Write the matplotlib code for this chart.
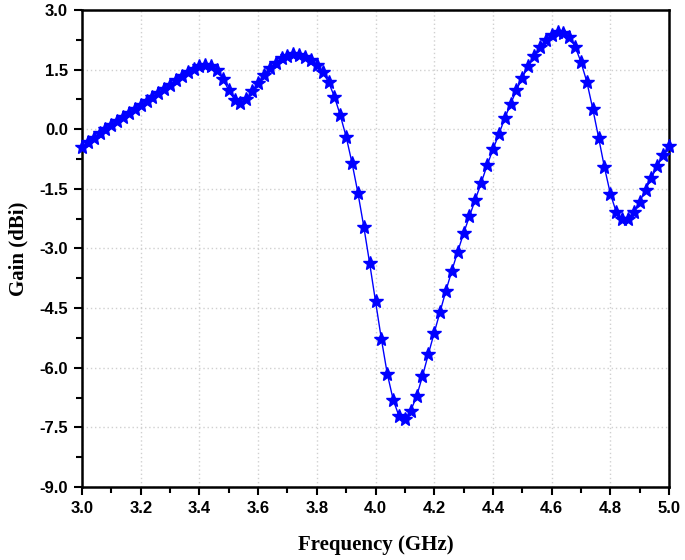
import numpy as np
import matplotlib
matplotlib.use("Agg")
import matplotlib.pyplot as plt
from matplotlib.ticker import MultipleLocator

freq = [3.00, 3.02, 3.04, 3.06, 3.08, 3.10, 3.12, 3.14, 3.16, 3.18,
        3.20, 3.22, 3.24, 3.26, 3.28, 3.30, 3.32, 3.34, 3.36, 3.38,
        3.40, 3.42, 3.44, 3.46, 3.48, 3.50, 3.52, 3.54, 3.56, 3.58,
        3.60, 3.62, 3.64, 3.66, 3.68, 3.70, 3.72, 3.74, 3.76, 3.78,
        3.80, 3.82, 3.84, 3.86, 3.88, 3.90, 3.92, 3.94, 3.96, 3.98,
        4.00, 4.02, 4.04, 4.06, 4.08, 4.10, 4.12, 4.14, 4.16, 4.18,
        4.20, 4.22, 4.24, 4.26, 4.28, 4.30, 4.32, 4.34, 4.36, 4.38,
        4.40, 4.42, 4.44, 4.46, 4.48, 4.50, 4.52, 4.54, 4.56, 4.58,
        4.60, 4.62, 4.64, 4.66, 4.68, 4.70, 4.72, 4.74, 4.76, 4.78,
        4.80, 4.82, 4.84, 4.86, 4.88, 4.90, 4.92, 4.94, 4.96, 4.98,
        5.00]
gain = [-0.45, -0.33, -0.21, -0.10, 0.01, 0.11, 0.21, 0.31, 0.41, 0.50,
        0.60, 0.70, 0.80, 0.90, 1.01, 1.12, 1.23, 1.34, 1.44, 1.52,
        1.58, 1.62, 1.60, 1.50, 1.27, 0.98, 0.74, 0.65, 0.75, 0.96,
        1.16, 1.37, 1.53, 1.67, 1.78, 1.85, 1.88, 1.87, 1.82, 1.73,
        1.61, 1.45, 1.18, 0.82, 0.35, -0.19, -0.85, -1.60, -2.45, -3.37,
        -4.33, -5.28, -6.15, -6.80, -7.22, -7.30, -7.08, -6.72, -6.21, -5.66,
        -5.12, -4.59, -4.06, -3.56, -3.08, -2.62, -2.19, -1.77, -1.35, -0.91,
        -0.51, -0.13, 0.27, 0.63, 0.98, 1.30, 1.58, 1.84, 2.06, 2.25,
        2.38, 2.44, 2.43, 2.33, 2.08, 1.69, 1.19, 0.52, -0.21, -0.96,
        -1.62, -2.08, -2.27, -2.25, -2.08, -1.83, -1.52, -1.22, -0.93, -0.65,
        -0.42]

xticks = [3.0, 3.2, 3.4, 3.6, 3.8, 4.0, 4.2, 4.4, 4.6, 4.8, 5.0]
yticks = [-9.0, -7.5, -6.0, -4.5, -3.0, -1.5, 0.0, 1.5, 3.0]

fig = plt.figure(figsize=(6.85, 5.6), dpi=100)
ax = fig.add_axes([0.1197, 0.1304, 0.857, 0.8518])

ax.plot(freq, gain, color='#0000ff', lw=1.0, marker='*', markersize=10,
        markerfacecolor='#0000ff', markeredgecolor='#0000ff', clip_on=False, zorder=3)

ax.set_xlim(3.0, 5.0)
ax.set_ylim(-9.0, 3.0)
ax.set_xticks(xticks)
ax.set_yticks(yticks)
ax.set_xticklabels([f"{v:.1f}" for v in xticks])
ax.set_yticklabels([f"{v:.1f}" for v in yticks])
ax.xaxis.set_minor_locator(MultipleLocator(0.1))
ax.yaxis.set_minor_locator(MultipleLocator(0.75))

ax.grid(True, which='major', color='#d0d0d0', linestyle=(0, (1, 2)), lw=1.0)
ax.set_axisbelow(True)

for s in ax.spines.values():
    s.set_linewidth(1.8)
    s.set_color('black')

ax.tick_params(which='major', direction='out', length=6, width=1.5,
               top=False, right=False, pad=4)
ax.tick_params(which='minor', direction='out', length=4, width=1.5,
               top=False, right=False)

for lab in ax.get_xticklabels() + ax.get_yticklabels():
    lab.set_fontfamily('Liberation Sans')
    lab.set_fontweight('bold')
    lab.set_fontsize(12)

ax.set_xlabel('Frequency (GHz)', fontfamily='Liberation Serif', fontweight='bold',
              fontsize=15, labelpad=14)
ax.set_ylabel('Gain (dBi)', fontfamily='Liberation Serif', fontweight='bold',
              fontsize=15, labelpad=8)

fig.savefig('out.png', dpi=100)
